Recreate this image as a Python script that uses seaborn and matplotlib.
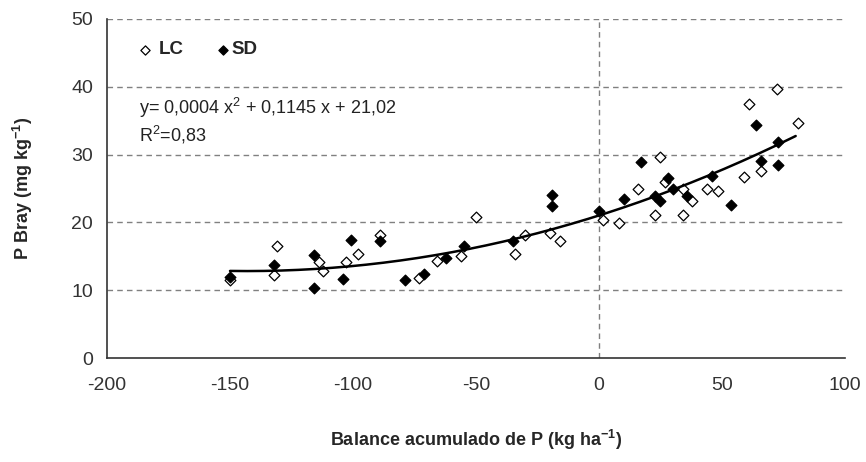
import numpy as np
import pandas as pd
import matplotlib
matplotlib.use("Agg")
import matplotlib.pyplot as plt
import seaborn as sns

# --- data ---
lc_x = [-150, -132, -131, -114, -112, -103, -98, -89, -73, -66, -56, -50, -34, -30,
        -20, -16, 1.6, 8, 16, 23, 25, 27, 34, 34, 38, 44, 48.5, 59, 61, 66, 72.5, 81]
lc_y = [11.5, 12.2, 16.5, 14.1, 12.9, 14.2, 15.4, 18.2, 11.8, 14.3, 15.0, 20.8, 15.4, 18.1,
        18.4, 17.3, 20.4, 19.9, 24.9, 21.1, 29.6, 25.9, 21.1, 24.9, 23.1, 24.9, 24.6, 26.7,
        37.4, 27.6, 39.6, 34.7]
sd_x = [-150, -132, -116, -116, -104, -101, -89, -79, -71, -62, -55, -35, -19, -19,
        0, 10, 17, 23, 25, 28, 30, 36, 46, 53.5, 64, 66, 73, 73]
sd_y = [12.0, 13.7, 15.2, 10.4, 11.7, 17.4, 17.2, 11.5, 12.4, 14.8, 16.5, 17.3, 24.0, 22.4,
        21.7, 23.4, 28.9, 23.9, 23.1, 26.6, 24.9, 23.9, 26.8, 22.5, 34.3, 29.1, 31.9, 28.4]

# trend line coefficients as printed on the chart (a x^2 + b x + c)
trend_coef = [0.0004, 0.1145, 21.02]
trend_range = [-150, 80]

x_ticks = [-200, -150, -100, -50, 0, 50, 100]
y_ticks = [0, 10, 20, 30, 40, 50]

sns.set_theme(style="white")
plt.rcParams['font.family'] = ['Liberation Sans', 'DejaVu Sans']
narrow = ['Liberation Sans Narrow', 'Liberation Sans', 'DejaVu Sans']

fig = plt.figure(figsize=(8.66, 4.62), dpi=100)
ax = fig.add_axes([0.1236, 0.225, 0.852, 0.734])

lc = pd.DataFrame({"x": lc_x, "y": lc_y})
sd = pd.DataFrame({"x": sd_x, "y": sd_y})

# grid
for yv in y_ticks[1:]:
    ax.axhline(yv, color="#808080", lw=1.0, ls=(0, (4, 3)), zorder=0)
ax.axvline(0, color="#808080", lw=1.0, ls=(0, (4, 3)), zorder=0)

sns.scatterplot(data=lc, x="x", y="y", ax=ax, marker="D", s=30, color="white",
                edgecolor="black", linewidth=0.9, zorder=3)
sns.scatterplot(data=sd, x="x", y="y", ax=ax, marker="D", s=30, color="black",
                edgecolor="black", linewidth=0.9, zorder=4)

xs = np.linspace(trend_range[0], trend_range[1], 200)
tr = pd.DataFrame({"x": xs, "y": np.polyval(trend_coef, xs)})
sns.lineplot(data=tr, x="x", y="y", ax=ax, color="black", lw=1.8, zorder=5)

ax.set_xlim(-200, 100)
ax.set_ylim(0, 50)
ax.set_xticks(x_ticks)
ax.set_yticks(y_ticks)
ax.set_xticklabels([str(v) for v in x_ticks], fontsize=14, color="#333333", family=narrow)
ax.set_yticklabels([str(v) for v in y_ticks], fontsize=14, color="#333333", family=narrow)
ax.tick_params(axis="both", direction="out", length=4, width=1, color="#333333", pad=10)
ax.tick_params(axis="y", pad=6)

for s in ["top", "right"]:
    ax.spines[s].set_visible(False)
for s in ["left", "bottom"]:
    ax.spines[s].set_color("#333333")
    ax.spines[s].set_linewidth(1.2)

ax.set_xlabel("Balance acumulado de P (kg ha$^{\\mathregular{-1}}$)", fontsize=13,
              fontweight="bold", labelpad=24)
ax.set_ylabel("P Bray (mg kg$^{\\mathregular{-1}}$)", fontsize=13, fontweight="bold", labelpad=26)

# legend drawn as text + markers (axes coordinates)
ax.scatter([0.051], [0.909], transform=ax.transAxes, marker="D", s=22, facecolor="white",
           edgecolor="black", linewidth=0.9, zorder=6, clip_on=False)
ax.text(0.07, 0.909, "LC", transform=ax.transAxes, fontsize=13.5, fontweight="bold",
        va="center", ha="left")
ax.scatter([0.157], [0.909], transform=ax.transAxes, marker="D", s=22, facecolor="black",
           edgecolor="black", linewidth=0.9, zorder=6, clip_on=False)
ax.text(0.169, 0.909, "SD", transform=ax.transAxes, fontsize=13.5, fontweight="bold",
        va="center", ha="left")

ax.text(0.043, 0.737, "y= 0,0004 x$^{\\mathregular{2}}$ + 0,1145 x + 21,02", transform=ax.transAxes,
        fontsize=13, color="#222222", va="center", ha="left")
ax.text(0.043, 0.658, "R$^{\\mathregular{2}}$=0,83", transform=ax.transAxes,
        fontsize=13, color="#222222", va="center", ha="left")

fig.savefig("out.png", dpi=100, facecolor="white")
